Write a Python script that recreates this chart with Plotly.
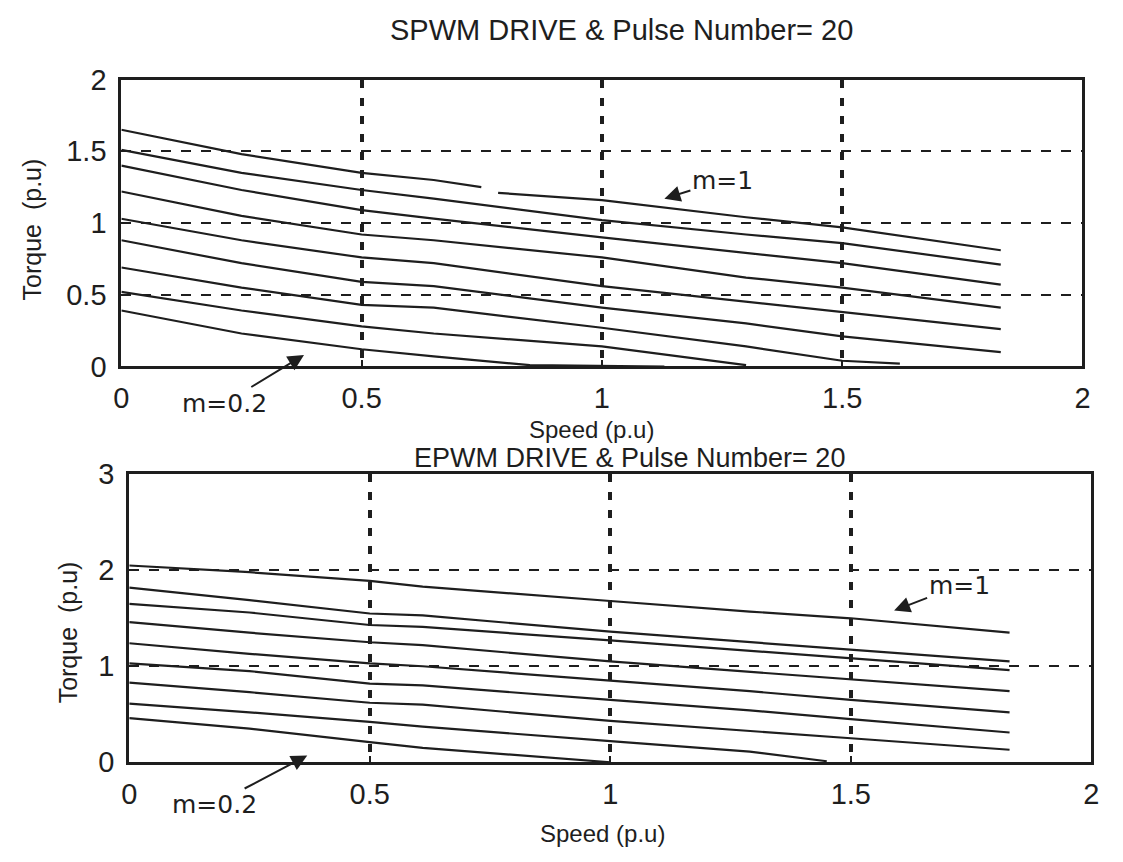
import plotly.graph_objects as go

# ---- SPWM drive, pulse number 20: torque vs speed for m = 0.2 ... 1.0 ----
spwm_m = ["1.0", "0.9", "0.8", "0.7", "0.6", "0.5", "0.4", "0.3", "0.2"]
spwm_x = {
    "1.0": [0, 0.25, 0.5, 0.65, 0.749, None, 0.784, 1.0, 1.3, 1.5, 1.83],
    "0.9": [0, 0.25, 0.5, 0.65, 1.0, 1.3, 1.5, 1.83],
    "0.8": [0, 0.25, 0.5, 0.65, 1.0, 1.3, 1.5, 1.83],
    "0.7": [0, 0.25, 0.5, 0.65, 1.0, 1.3, 1.5, 1.83],
    "0.6": [0, 0.25, 0.5, 0.65, 1.0, 1.3, 1.5, 1.83],
    "0.5": [0, 0.25, 0.5, 0.65, 1.0, 1.3, 1.5, 1.83],
    "0.4": [0, 0.25, 0.5, 0.65, 1.0, 1.3, 1.5, 1.62],
    "0.3": [0, 0.25, 0.5, 0.65, 1.0, 1.3],
    "0.2": [0, 0.25, 0.5, 0.65, 0.85, 1.13],
}
spwm_t = {
    "1.0": [1.65, 1.48, 1.35, 1.30, 1.25, None, 1.21, 1.16, 1.04, 0.97, 0.81],
    "0.9": [1.51, 1.35, 1.23, 1.17, 1.02, 0.92, 0.86, 0.71],
    "0.8": [1.40, 1.23, 1.09, 1.03, 0.90, 0.79, 0.72, 0.57],
    "0.7": [1.22, 1.05, 0.92, 0.88, 0.76, 0.62, 0.55, 0.41],
    "0.6": [1.03, 0.88, 0.76, 0.72, 0.56, 0.45, 0.38, 0.26],
    "0.5": [0.88, 0.72, 0.59, 0.56, 0.41, 0.30, 0.21, 0.10],
    "0.4": [0.69, 0.55, 0.43, 0.41, 0.27, 0.14, 0.04, 0.02],
    "0.3": [0.52, 0.39, 0.28, 0.23, 0.14, 0.01],
    "0.2": [0.39, 0.23, 0.12, 0.07, 0.01, 0.0],
}

# ---- EPWM drive, pulse number 20 ----
epwm_m = ["1.0", "0.9", "0.8", "0.7", "0.6", "0.5", "0.4", "0.3", "0.2"]
epwm_x = {
    "1.0": [0, 0.25, 0.5, 0.61, 1.0, 1.29, 1.5, 1.83],
    "0.9": [0, 0.25, 0.5, 0.61, 1.0, 1.29, 1.5, 1.83],
    "0.8": [0, 0.25, 0.5, 0.61, 1.0, 1.29, 1.5, 1.83],
    "0.7": [0, 0.25, 0.5, 0.61, 1.0, 1.29, 1.5, 1.83],
    "0.6": [0, 0.25, 0.5, 0.61, 1.0, 1.29, 1.5, 1.83],
    "0.5": [0, 0.25, 0.5, 0.61, 1.0, 1.29, 1.5, 1.83],
    "0.4": [0, 0.25, 0.5, 0.61, 1.0, 1.29, 1.5, 1.83],
    "0.3": [0, 0.25, 0.5, 0.61, 1.0, 1.29, 1.45],
    "0.2": [0, 0.25, 0.5, 0.61, 1.0],
}
epwm_t = {
    "1.0": [2.05, 1.98, 1.89, 1.83, 1.68, 1.57, 1.50, 1.35],
    "0.9": [1.82, 1.69, 1.55, 1.53, 1.36, 1.25, 1.17, 1.05],
    "0.8": [1.65, 1.56, 1.43, 1.41, 1.27, 1.16, 1.08, 0.96],
    "0.7": [1.46, 1.35, 1.25, 1.22, 1.05, 0.94, 0.86, 0.74],
    "0.6": [1.24, 1.13, 1.03, 1.00, 0.85, 0.74, 0.65, 0.52],
    "0.5": [1.03, 0.95, 0.82, 0.80, 0.65, 0.54, 0.45, 0.31],
    "0.4": [0.83, 0.73, 0.62, 0.60, 0.43, 0.33, 0.25, 0.13],
    "0.3": [0.61, 0.52, 0.42, 0.37, 0.22, 0.11, 0.01],
    "0.2": [0.46, 0.35, 0.21, 0.15, 0.0],
}

speed_ticks = [0, 0.5, 1, 1.5, 2]
speed_labels = ["0", "0.5", "1", "1.5", "2"]
spwm_torque_ticks = [0, 0.5, 1, 1.5, 2]
spwm_torque_labels = ["0", "0.5", "1", "1.5", "2"]
epwm_torque_ticks = [0, 1, 2, 3]
epwm_torque_labels = ["0", "1", "2", "3"]

INK = "#1e1e1e"
FONT = "Liberation Sans, Arial, sans-serif"
NOTE_FONT = "DejaVu Sans, Liberation Sans, sans-serif"
W, H = 1123, 862

fig = go.Figure()

for m in spwm_m:
    fig.add_trace(go.Scatter(
        x=spwm_x[m], y=spwm_t[m], mode="lines", name="m=" + m,
        line=dict(color=INK, width=2.2), connectgaps=False,
        xaxis="x", yaxis="y", showlegend=False))

for m in epwm_m:
    fig.add_trace(go.Scatter(
        x=epwm_x[m], y=epwm_t[m], mode="lines", name="m=" + m,
        line=dict(color=INK, width=2.2),
        xaxis="x2", yaxis="y2", showlegend=False))


def xaxis_style(domain, anchor):
    return dict(
        domain=domain, anchor=anchor, range=[0, 2],
        tickvals=speed_ticks, ticktext=speed_labels,
        tickfont=dict(family=FONT, size=29, color=INK),
        ticks="inside", ticklen=6, tickwidth=2, tickcolor=INK,
        ticklabelstandoff=4,
        showline=True, linewidth=3, linecolor=INK, mirror=True,
        showgrid=True, gridcolor=INK, gridwidth=4, griddash="8px,10px",
        zeroline=False, fixedrange=True,
    )


def yaxis_style(domain, anchor, rng, vals, labels):
    return dict(
        domain=domain, anchor=anchor, range=rng,
        tickvals=vals, ticktext=labels,
        tickfont=dict(family=FONT, size=29, color=INK),
        ticks="inside", ticklen=6, tickwidth=2, tickcolor=INK,
        ticklabelstandoff=6,
        showline=True, linewidth=3, linecolor=INK, mirror=True,
        showgrid=True, gridcolor=INK, gridwidth=1.6, griddash="10px,10px",
        zeroline=False, fixedrange=True,
    )


# plot areas in pixels: top 115..1090 x 66..364, bottom 123..1099 x 476..775
top_x = [115 / W, 1090 / W]
top_y = [1 - 364 / H, 1 - 66 / H]
bot_x = [123 / W, 1099 / W]
bot_y = [1 - 775 / H, 1 - 476 / H]


def px(xp, yp):
    return xp / W, 1 - yp / H


annotations = []


def text_at(txt, xp, yp, size, angle=0):
    x, y = px(xp, yp)
    annotations.append(dict(
        text=txt, x=x, y=y, xref="paper", yref="paper",
        xanchor="center", yanchor="middle", showarrow=False,
        textangle=angle, font=dict(family=FONT, size=size, color=INK)))


text_at("SPWM DRIVE &amp; Pulse Number= 20", 622, 15, 29)
text_at("Speed (p.u)", 592, 429, 24)
text_at("Torque  (p.u)", 24, 222, 25, -90)
text_at("EPWM DRIVE &amp; Pulse Number= 20", 630, 459, 27)
text_at("Speed (p.u)", 603, 849, 24)
text_at("Torque  (p.u)", 61, 640, 25, -90)


def pointer(txt, x, y, xr, yr, ax, ay):
    annotations.append(dict(
        text=txt, x=x, y=y, xref=xr, yref=yr, ax=ax, ay=ay,
        showarrow=True, arrowhead=2, arrowsize=1.6, arrowwidth=2,
        arrowcolor=INK, font=dict(family=NOTE_FONT, size=25, color=INK)))


pointer("m=1", 1.13, 1.17, "x", "y", 58, -18)
pointer("m=0.2", 0.38, 0.08, "x", "y", -79, 48)
pointer("m=1", 1.59, 1.58, "x2", "y2", 65, -25)
pointer("m=0.2", 0.37, 0.07, "x2", "y2", -93, 49)

fig.update_layout(
    width=W, height=H,
    margin=dict(l=0, r=0, t=0, b=0),
    paper_bgcolor="white", plot_bgcolor="white",
    xaxis=xaxis_style(top_x, "y"),
    yaxis=yaxis_style(top_y, "x", [0, 2], spwm_torque_ticks, spwm_torque_labels),
    xaxis2=xaxis_style(bot_x, "y2"),
    yaxis2=yaxis_style(bot_y, "x2", [0, 3], epwm_torque_ticks, epwm_torque_labels),
    annotations=annotations,
    showlegend=False,
)

fig.write_html("out.html", config={"displayModeBar": False})
